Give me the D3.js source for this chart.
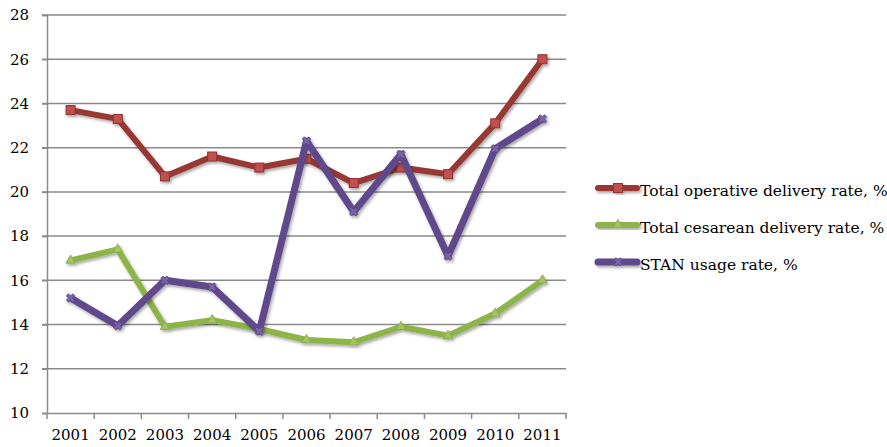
<!DOCTYPE html>
<html><head><meta charset="utf-8">
<script src="https://cdn.jsdelivr.net/npm/d3@7"></script>
<style>body{margin:0;background:#fff}svg{display:block}</style>
</head><body>
<script>
const years = ["2001","2002","2003","2004","2005","2006","2007","2008","2009","2010","2011"];
const operative = [23.7,23.3,20.7,21.6,21.1,21.5,20.4,21.1,20.8,23.1,26.0];
const cesarean = [16.9,17.4,13.9,14.2,13.8,13.3,13.2,13.9,13.5,14.5,16.0];
const stan = [15.2,13.95,16.0,15.7,13.7,22.3,19.1,21.7,17.1,21.95,23.3];
const seriesNames = ["Total operative delivery rate, %","Total cesarean delivery rate, %","STAN usage rate, %"];
const yTicks = [10,12,14,16,18,20,22,24,26,28];

const W=887,H=447;
const m={l:47,r:321,t:15,b:34};
const svg=d3.select("body").append("svg").attr("width",W).attr("height",H);
const defs=svg.append("defs");
const f=defs.append("filter").attr("id","sh").attr("x","-20%").attr("y","-20%").attr("width","140%").attr("height","140%");
f.append("feDropShadow").attr("dx",1.5).attr("dy",2).attr("stdDeviation",1.5).attr("flood-color","#000").attr("flood-opacity",0.35);

const x=d3.scaleBand().domain(years).range([m.l,W-m.r]);
const y=d3.scaleLinear().domain([10,28]).range([H-m.b,m.t]);
const font="'DejaVu Serif', serif";

// grid
svg.append("g").selectAll("line").data(yTicks.slice(1)).join("line")
 .attr("x1",m.l-5).attr("x2",W-m.r).attr("y1",d=>y(d)).attr("y2",d=>y(d))
 .attr("stroke","#8a8a8a").attr("stroke-width",1.5);

// y axis
const ya=svg.append("g").attr("transform",`translate(${m.l},0)`)
 .call(d3.axisLeft(y).tickValues(yTicks).tickSize(5).tickPadding(13));
ya.select(".domain").attr("stroke","#8a8a8a").attr("stroke-width",1.5);
ya.selectAll(".tick line").attr("stroke","#8a8a8a").attr("stroke-width",1.5);
ya.selectAll("text").attr("font-family",font).attr("font-size",15).attr("fill","#000");

// x axis
const xa=svg.append("g").attr("transform",`translate(0,${H-m.b})`)
 .call(d3.axisBottom(x).tickSize(0).tickPadding(16));
xa.select(".domain").attr("stroke","#8a8a8a").attr("stroke-width",1.5);
xa.selectAll("text").attr("font-family",font).attr("font-size",15).attr("fill","#000");
const bounds=years.map(d=>x(d)).concat([x.range()[1]]);
xa.append("g").selectAll("line").data(bounds).join("line")
 .attr("x1",d=>d).attr("x2",d=>d).attr("y1",0).attr("y2",6)
 .attr("stroke","#8a8a8a").attr("stroke-width",1.5);

const cx=d=>x(d)+x.bandwidth()/2;
const series=[
 {name:seriesNames[0],vals:operative,line:"#983734",fill:"#c0504d",stroke:"#8c3431",marker:"square",w:6},
 {name:seriesNames[1],vals:cesarean,line:"#8db44a",fill:"#a4c463",stroke:"#86a846",marker:"triangle",w:6},
 {name:seriesNames[2],vals:stan,line:"#5f4a8b",fill:"#7c62a6",stroke:"#5a4684",marker:"star",w:7}
];
const line=d3.line().x((d,i)=>cx(years[i])).y(d=>y(d));

function marker(g,type,px,py,s){
 if(type==="square"){
  g.append("rect").attr("x",px-4.5).attr("y",py-4.5).attr("width",9).attr("height",9)
   .attr("fill",s.fill).attr("stroke",s.stroke).attr("stroke-width",1);
 } else if(type==="triangle"){
  g.append("path").attr("d",d3.symbol(d3.symbolTriangle,40)()).attr("transform",`translate(${px},${py})`)
   .attr("fill",s.fill).attr("stroke",s.stroke).attr("stroke-width",0.8);
 } else {
  g.append("path").attr("d",d3.symbol(d3.symbolCross,45)()).attr("transform",`translate(${px},${py}) rotate(45)`)
   .attr("fill",s.fill).attr("stroke",s.stroke).attr("stroke-width",0.8);
 }
}

series.forEach(s=>{
 const g=svg.append("g").attr("filter","url(#sh)");
 g.append("path").datum(s.vals).attr("d",line).attr("fill","none")
  .attr("stroke",s.line).attr("stroke-width",s.w).attr("stroke-linejoin","round");
 s.vals.forEach((v,i)=>marker(g,s.marker,cx(years[i]),y(v),s));
});

// legend
const lg=svg.append("g");
const ly=[188,225,262];
series.forEach((s,i)=>{
 const g=lg.append("g").attr("filter","url(#sh)");
 g.append("line").attr("x1",598).attr("x2",637).attr("y1",ly[i]).attr("y2",ly[i])
  .attr("stroke",s.line).attr("stroke-width",s.w).attr("stroke-linecap","round");
 marker(g,s.marker,618,ly[i],s);
 lg.append("text").attr("x",640).attr("y",ly[i]+8).attr("font-family",font)
  .attr("font-size",15.5).attr("fill","#000").text(s.name);
});
</script>
</body></html>
